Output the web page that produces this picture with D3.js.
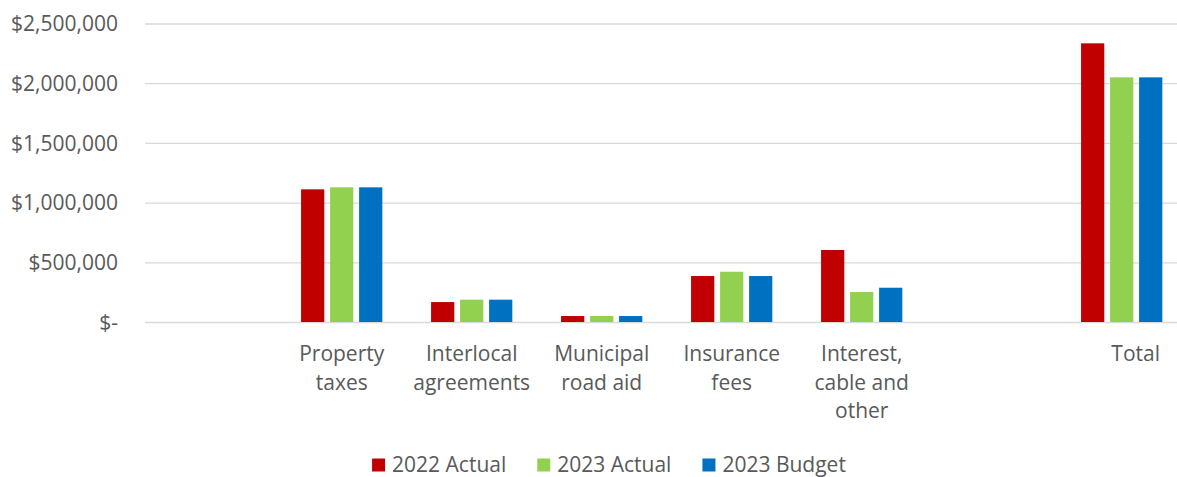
<!DOCTYPE html>
<html>
<head>
<meta charset="utf-8">
<script src="https://cdn.jsdelivr.net/npm/d3@7/dist/d3.min.js"></script>
<style>
  html, body { margin: 0; padding: 0; background: #fff; }
  svg { display: block; }
  text { font-family: "Open Sans", sans-serif; fill: #595959; }
</style>
</head>
<body>
<svg id="chart" width="1177" height="477"></svg>
<script>
// ---- data ----
const categories = ["", "Property\ntaxes", "Interlocal\nagreements", "Municipal\nroad aid", "Insurance\nfees", "Interest,\ncable and\nother", "", "Total"];
const seriesNames = ["2022 Actual", "2023 Actual", "2023 Budget"];
const actual2022 = [null, 1111000, 167000, 50000, 385000, 603000, null, 2334000];
const actual2023 = [null, 1128000, 187000, 50000, 421000, 251000, null, 2049000];
const budget2023 = [null, 1128000, 187000, 50000, 385000, 287000, null, 2049000];
const yTicks = [0, 500000, 1000000, 1500000, 2000000, 2500000];
const colors = ["#C00000", "#92D050", "#0070C0"];

const series = [actual2022, actual2023, budget2023];

const svg = d3.select("#chart");
const mLeft = 145, mRight = 1187, mTop = 23.5, mBottom = 322;

const x0 = d3.scaleBand().domain(d3.range(categories.length)).range([mLeft + 1.7, mRight - 0.3]).padding(0);
const x1 = d3.scaleBand().domain(d3.range(series.length)).range([0, x0.bandwidth()]).paddingInner(0.2).paddingOuter(0.84);
const y = d3.scaleLinear().domain([0, 2500000]).range([mBottom, mTop]);

const fmt = v => v === 0 ? "$-" : "$" + d3.format(",")(v);

// y axis with gridlines
const yAxis = svg.append("g")
  .attr("transform", `translate(${mLeft},0)`)
  .call(d3.axisLeft(y).tickValues(yTicks).tickFormat(fmt).tickSize(-(1177 - mLeft)).tickPadding(27));
yAxis.select(".domain").remove();
yAxis.selectAll(".tick line").attr("stroke", "#d9d9d9").attr("stroke-width", 1.3);
yAxis.selectAll(".tick text").attr("font-size", 21).attr("fill", "#595959")
  .style("font-family", '"Open Sans", sans-serif').attr("dy", "0.34em");

// bars
const groups = svg.append("g").selectAll("g")
  .data(categories.map((c, i) => i))
  .join("g")
  .attr("transform", i => `translate(${x0(i)},0)`);

groups.selectAll("rect")
  .data(i => series.map((s, k) => ({ k, v: s[i] })).filter(d => d.v != null))
  .join("rect")
  .attr("x", d => x1(d.k))
  .attr("width", x1.bandwidth())
  .attr("y", d => y(d.v))
  .attr("height", d => y(0) - y(d.v))
  .attr("fill", d => colors[d.k]);

// category labels
const xAxis = svg.append("g").attr("transform", `translate(0,${mBottom})`)
  .call(d3.axisBottom(x0).tickSize(0).tickFormat(() => ""));
xAxis.select(".domain").remove();
xAxis.selectAll(".tick").each(function(i) {
  const lines = categories[i].split("\n");
  const t = d3.select(this).append("text")
    .attr("text-anchor", "middle")
    .attr("font-size", 21)
    .attr("fill", "#595959")
    .attr("dx", categories[i] === "Total" ? 14 : 0);
  lines.forEach((ln, j) => {
    t.append("tspan").attr("x", 0).attr("y", 39 + j * 28.7).text(ln);
  });
});

// legend
const legend = svg.append("g");
let lx = 0;
seriesNames.forEach((name, k) => {
  const g = legend.append("g");
  g.append("rect").attr("x", 0).attr("y", -13.5).attr("width", 13).attr("height", 13).attr("fill", colors[k]);
  const t = g.append("text").attr("x", 20).attr("y", 0).attr("font-size", 21).text(name);
  const w = 20 + t.node().getComputedTextLength();
  g.attr("transform", `translate(${lx},0)`);
  lx += w + 31;
});
const totalW = lx - 31;
legend.attr("transform", `translate(${609 - totalW / 2},472)`);
</script>
</body>
</html>
